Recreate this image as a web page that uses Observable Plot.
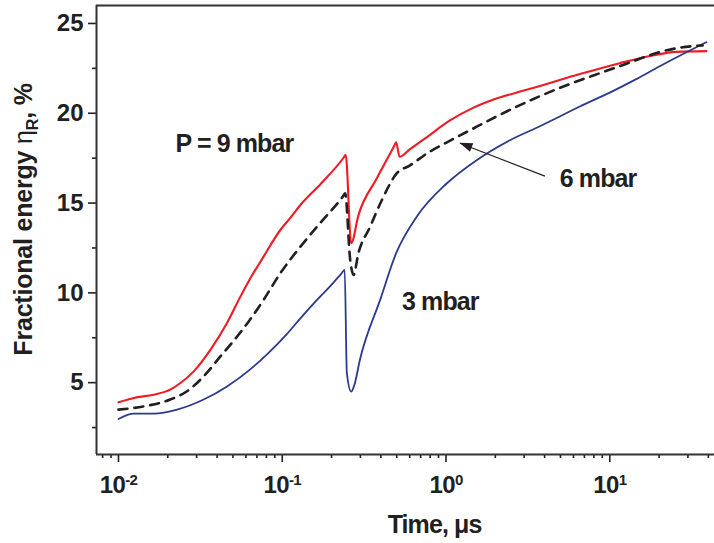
<!DOCTYPE html>
<html><head><meta charset="utf-8">
<script src="https://cdn.jsdelivr.net/npm/d3@7"></script>
<script src="https://cdn.jsdelivr.net/npm/@observablehq/plot@0.6"></script>
<style>
html,body{margin:0;padding:0;background:#fff;}
#chart svg{display:block;}
</style></head><body><div id="chart"></div>
<script>
// ---- data (time in µs, fractional energy in %) ----
const redTime  = [0.01, 0.0124, 0.0164, 0.0207, 0.0239, 0.0288, 0.0364, 0.046, 0.0555, 0.0624, 0.0769, 0.0973, 0.112, 0.129, 0.171, 0.238, 0.244, 0.2636, 0.292, 0.379, 0.485, 0.496, 0.52, 0.603, 0.745, 1.057, 1.462, 1.936, 2.95, 3.57, 6.56, 11.5, 18.3, 25.5, 38.9];
const redValue = [3.91, 4.15, 4.33, 4.61, 4.98, 5.63, 6.83, 8.32, 9.79, 10.65, 12.02, 13.5, 14.17, 14.89, 16.05, 17.55, 17.69, 12.76, 14.33, 16.39, 18.22, 18.39, 17.58, 18.0, 18.6, 19.6, 20.3, 20.75, 21.25, 21.46, 22.18, 22.79, 23.22, 23.42, 23.46];

const blueTime  = [0.01, 0.0124, 0.0164, 0.0228, 0.0331, 0.046, 0.0624, 0.0807, 0.107, 0.129, 0.163, 0.205, 0.229, 0.2405, 0.248, 0.2636, 0.2748, 0.299, 0.396, 0.496, 0.662, 1.009, 1.538, 2.455, 3.74, 4.95, 6.56, 10.0, 14.5, 20.2, 28, 38.9];
const blueValue = [2.98, 3.28, 3.28, 3.5, 4.06, 4.79, 5.67, 6.58, 7.72, 8.58, 9.61, 10.56, 11.06, 11.28, 5.54, 4.5, 4.83, 6.33, 9.61, 12.21, 14.24, 16.09, 17.39, 18.5, 19.28, 19.82, 20.38, 21.15, 21.9, 22.62, 23.3, 23.96];

const dashTime  = [0.01, 0.01426, 0.0207, 0.0262, 0.0331, 0.0419, 0.053, 0.0624, 0.0769, 0.0973, 0.129, 0.1706, 0.236, 0.2421, 0.26, 0.2723, 0.2918, 0.344, 0.406, 0.5, 0.603, 0.776, 1.0, 1.466, 2.344, 3.741, 5.445, 9.06, 12.65, 20.2, 26.7, 36.9];
const dashValue = [3.5, 3.68, 4.06, 4.52, 5.35, 6.46, 7.57, 8.41, 9.61, 11.09, 12.57, 13.89, 15.4, 15.54, 11.83, 11.0, 12.21, 13.68, 15.17, 16.65, 17.1, 17.8, 18.35, 19.15, 20.1, 20.95, 21.56, 22.29, 22.76, 23.41, 23.65, 23.78];

const xMajorTicks = [0.01, 0.1, 1, 10];
const xTickBase = "10";
const xTickExponents = ["-2", "-1", "0", "1"];
const xMinorTicks = [0.008, 0.009, 0.02, 0.03, 0.04, 0.05, 0.06, 0.07, 0.08, 0.09, 0.2, 0.3, 0.4, 0.5, 0.6, 0.7, 0.8, 0.9, 2, 3, 4, 5, 6, 7, 8, 9, 20, 30, 40];
const yMajorTicks = [5, 10, 15, 20, 25];
const yMinorTicks = [2.5, 7.5, 12.5, 17.5, 22.5];
const xDomain = [0.00734, 43.6];
const yDomain = [1, 26];

const annotationText  = ["P = 9 mbar", "6 mbar", "3 mbar"];
const annotationTime  = [0.0223, 4.95, 0.539];
const annotationValue = [17.85, 15.89, 9.06];
const arrowFrom = {time: 4.02, value: 16.5};
const arrowTo   = {time: 1.217, value: 18.33};
const xLabel = {text: "Time, \u03bcs", time: 0.851};
const yLabelParts = ["Fractional energy ", "\u03b7", "R", ", %"];

// ---- build ----
const series = (t, v) => t.map((d, i) => ({time: d, value: v[i]}));
const annotations = annotationText.map((s, i) => ({text: s, time: annotationTime[i], value: annotationValue[i]}));
const ink = "#231f20";
const font = "'Liberation Sans', Arial, Helvetica, sans-serif";

const plot = Plot.plot({
  width: 714, height: 543,
  marginLeft: 96, marginRight: 0, marginTop: 5, marginBottom: 89,
  style: {fontFamily: font, color: ink, background: "#fff", overflow: "visible"},
  x: {type: "log", domain: xDomain},
  y: {domain: yDomain},
  marks: [
    Plot.axisY(yMajorTicks, {tickSize: 8, tickPadding: 5, fontSize: 24, fontWeight: "bold", strokeWidth: 1.6, label: null}),
    Plot.axisY(yMinorTicks, {tickSize: 4, tickFormat: () => "", strokeWidth: 1.6, label: null}),
    Plot.axisX(xMajorTicks, {tickSize: 8, tickPadding: 13, fontSize: 24, fontWeight: "bold", strokeWidth: 1.6, label: null,
      tickFormat: d => xTickBase + "^" + xTickExponents[xMajorTicks.indexOf(d)]}),
    Plot.axisX(xMinorTicks, {tickSize: 4, tickFormat: () => "", strokeWidth: 1.6, label: null}),
    Plot.ruleY([yDomain[0], yDomain[1]], {stroke: "#333", strokeWidth: 2}),
    Plot.ruleX([xDomain[0]], {stroke: "#333", strokeWidth: 2}),
    Plot.line(series(redTime, redValue), {x: "time", y: "value", stroke: "#ed1c24", strokeWidth: 2.1, curve: "monotone-x"}),
    Plot.line(series(blueTime, blueValue), {x: "time", y: "value", stroke: "#2b3990", strokeWidth: 1.8, curve: "monotone-x"}),
    Plot.line(series(dashTime, dashValue), {x: "time", y: "value", stroke: ink, strokeWidth: 2.6, strokeDasharray: "9,7", curve: "monotone-x"}),
    Plot.link([{a: arrowFrom, b: arrowTo}], {x1: d => d.a.time, y1: d => d.a.value, x2: d => d.b.time, y2: d => d.b.value, stroke: ink, strokeWidth: 1.1}),
    Plot.text(annotations, {x: "time", y: "value", text: "text", textAnchor: "start", lineAnchor: "bottom", fontSize: 25, fontWeight: "bold", fill: ink}),
    Plot.text([xLabel], {x: "time", text: "text", frameAnchor: "bottom", dy: 78, lineAnchor: "bottom", fontSize: 25, fontWeight: "bold", fill: ink})
  ]
});

const svg = d3.select(plot);
// superscript exponents on x tick labels
svg.selectAll('g[aria-label="x-axis tick label"] text').each(function () {
  const s = this.textContent;
  if (!s.includes("^")) return;
  const [base, exp] = s.split("^");
  const t = d3.select(this);
  t.text(base).style("letter-spacing", "-0.6px");
  t.append("tspan").attr("dy", -8).attr("font-size", "15px").text(exp);
});
svg.selectAll('g[aria-label="text"] text').style("letter-spacing", "-0.9px");

// filled arrowhead
const sx = plot.scale("x"), sy = plot.scale("y");
const ax1 = sx.apply(arrowFrom.time), ay1 = sy.apply(arrowFrom.value);
const ax2 = sx.apply(arrowTo.time), ay2 = sy.apply(arrowTo.value);
const L = Math.hypot(ax2 - ax1, ay2 - ay1), ux = (ax2 - ax1) / L, uy = (ay2 - ay1) / L;
const hl = 13, hw = 4.5;
const bx = ax2 - ux * hl, by = ay2 - uy * hl;
svg.append("path")
  .attr("d", `M${ax2},${ay2}L${bx - uy * hw},${by + ux * hw}L${bx + uy * hw},${by - ux * hw}Z`)
  .attr("fill", ink);

// y-axis label with subscript
const yl = svg.append("text")
  .attr("transform", "translate(32,219.5) rotate(-90)")
  .attr("text-anchor", "middle")
  .attr("font-family", font)
  .attr("font-size", 25)
  .attr("font-weight", "bold")
  .attr("fill", ink)
  .style("letter-spacing", "-0.2px");
yl.append("tspan").text(yLabelParts[0]);
yl.append("tspan").attr("font-weight", "normal").text(yLabelParts[1]);
yl.append("tspan").attr("font-size", 16).attr("dy", 6).text(yLabelParts[2]);
yl.append("tspan").attr("dy", -6).text(yLabelParts[3]);

document.getElementById("chart").appendChild(plot);
</script>
</body></html>
